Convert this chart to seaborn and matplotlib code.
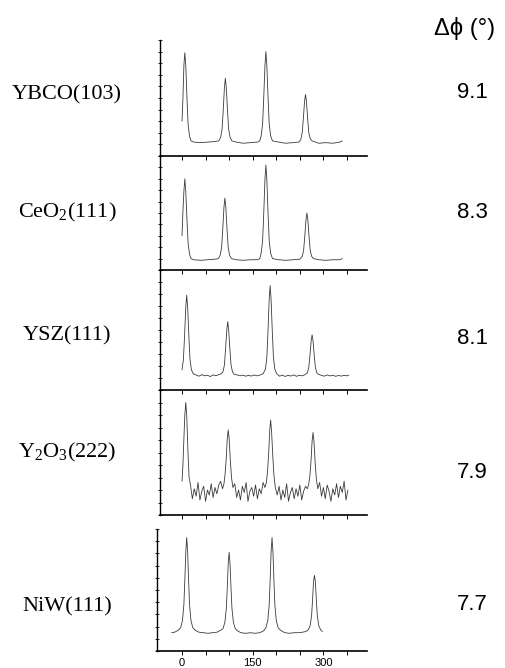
import matplotlib
matplotlib.use("Agg")
import matplotlib.pyplot as plt
import seaborn as sns
import pandas as pd
from matplotlib.ticker import FixedLocator, MultipleLocator, NullFormatter, FixedFormatter

# ---------------- data ----------------
SAMPLES = ["YBCO(103)", "CeO$_2$(111)", "YSZ(111)", "Y$_2$O$_3$(222)", "NiW(111)"]
DELTA_PHI = ["9.1", "8.3", "8.1", "7.9", "7.7"]
HEADER = "Δϕ (°)"
XTICKS_LABELLED = [0, 150, 300]
XTICK_LABELS = ["0", "150", "300"]
XTICKS_MINOR = [50, 100, 200, 250, 350]

PHI_YBCO = [0, 2, 4, 6, 8, 10.5, 13, 16, 19, 25, 40, 55, 70, 78, 82, 85, 87.5, 90, 92, 94,
            96.5, 99, 102, 106, 115, 130, 145, 160, 165, 168, 171, 173.5, 176, 178, 180,
            182.5, 185, 188, 192, 205, 220, 235, 248, 252, 255, 257.5, 260, 262, 264,
            266.5, 269, 272, 276, 290, 305, 320, 335, 340]
I_YBCO = [30, 50, 78, 89, 78, 50, 27, 17, 13, 12, 11.5, 12, 12.5, 13, 16, 23, 39.5, 59, 67, 59,
          39.5, 23, 16, 13, 12, 11, 11.5, 12, 13, 17.5, 27.6, 51, 78, 90, 78,
          51, 27.6, 17.5, 13, 12, 11, 11.5, 12, 14, 20, 32.5, 47, 53, 47,
          32.5, 20, 15, 13, 11, 11.5, 11, 12, 13]

PHI_CEO2 = [0, 2, 4, 6, 8, 10.5, 13, 16, 19, 25, 40, 55, 70, 77, 81, 84, 86.5, 89, 91, 93,
            95.5, 98, 101, 105, 115, 130, 145, 160, 165, 168, 171, 173.5, 176, 178, 180,
            182.5, 185, 188, 192, 205, 220, 235, 250, 255, 258, 260.5, 263, 265, 267,
            269.5, 272, 275, 279, 290, 305, 320, 335, 340]
I_CEO2 = [30, 52, 69, 80, 69, 44.5, 23, 14, 10, 9, 8.5, 9, 9.5, 10, 12.8, 19.8, 36, 55, 63, 55,
          36, 19.8, 12.8, 10, 9, 8.5, 9, 9, 10, 14.8, 25.6, 50.5, 79.5, 92, 79.5,
          50.5, 25.6, 14.8, 10, 9, 8.5, 9, 9.5, 11.9, 17.2, 29.5, 44, 50, 44,
          29.5, 17.2, 12, 10, 9, 8.5, 9, 9, 10]

PHI_YSZ = [0, 3, 5.5, 8, 10, 12, 14.5, 17, 20, 24,
           30, 36, 42, 48, 54, 60, 66, 72, 78, 83,
           87, 90, 92.5, 95, 97, 99, 101.5, 104, 107, 111,
           117, 123, 129, 135, 141, 147, 153, 159, 165, 172,
           177, 180, 182.5, 185, 187, 189, 191.5, 194, 197, 201,
           207, 213, 219, 225, 231, 237, 243, 249, 255, 261,
           266, 269, 271.5, 274, 276, 278, 280.5, 283, 286, 290,
           296, 302, 308, 314, 320, 326, 332, 338, 344, 350, 354]
I_YSZ = [16.7, 25.4, 45.5, 69, 79, 69, 45.5, 25.4, 16.7, 13.5,
         12.5, 11.5, 12.8, 11.8, 12.3, 11.2, 12.6, 11.9, 12.8, 13.5,
         15.2, 21, 34.5, 50, 57, 50, 34.5, 21, 15.2, 13,
         12.6, 11.8, 12.4, 11.5, 12.2, 11.6, 12.5, 11.8, 12.4, 13.5,
         17.3, 27, 49.5, 75.8, 87, 75.8, 49.5, 27, 17.3, 13.5,
         11.5, 12.4, 11.3, 12.2, 11.6, 12.6, 11.4, 12.3, 11.8, 12.8,
         14.4, 18.8, 29, 40.9, 46, 40.9, 29, 18.8, 14.4, 13,
         12.2, 11.5, 12.6, 11.7, 12.3, 11.4, 12.1, 11.6, 12.2, 11.8, 12.4]

PHI_Y2O3 = [0, 2, 4, 6, 8, 10, 12.5, 15,
            18, 22, 26, 30, 34, 38, 42, 46, 50, 54, 58, 62, 66, 70, 74, 78, 82,
            86, 89, 91.5, 94, 96, 98, 100, 102.5, 105, 108,
            112, 116, 120, 124, 128, 132, 136, 140, 144, 148, 152, 156, 160, 164, 168, 172,
            176, 179, 181.5, 184, 186, 188, 190, 192.5, 195, 198,
            202, 206, 210, 214, 218, 222, 226, 230, 234, 238, 242, 246, 250, 254, 258, 262,
            266, 269, 271.5, 274, 276, 278, 280, 282.5, 285, 288,
            292, 296, 300, 304, 308, 312, 316, 320, 324, 328, 332, 336, 340, 344, 348, 352]
I_Y2O3 = [27, 40, 61, 80, 90, 80, 52, 30,
          24, 13, 21, 15, 26, 12, 19, 23, 11, 20, 16, 25, 14, 22, 17, 24, 27,
          21, 25, 33, 46, 61, 68, 61, 44, 30, 22,
          25, 14, 20, 12, 23, 18, 26, 11, 19, 22, 15, 24, 13, 21, 17, 26,
          22, 26, 35, 50, 67, 76, 67, 48, 32, 22,
          16, 23, 12, 20, 14, 25, 11, 18, 22, 13, 21, 15, 24, 12, 19, 23,
          21, 25, 32, 45, 59, 66, 59, 42, 29, 21,
          26, 15, 22, 13, 24, 19, 11, 21, 16, 25, 14, 23, 18, 27, 12, 20]

PHI_NIW = [-22, -15, -8, -3, 1, 4, 6, 8, 10, 12, 14, 16, 19, 23, 28, 35,
           45, 55, 65, 75, 82,
           87, 91, 94, 96, 98, 100, 102, 104, 106, 109, 113, 118,
           125, 135, 145, 155, 165, 173,
           178, 182, 185, 187, 189, 191, 193, 195, 197, 200, 204, 209,
           218, 228, 238, 248, 257,
           263, 268, 272, 275, 277, 279, 281, 283, 285, 287, 290, 294, 298]
I_NIW = [15, 15.5, 17, 19, 25, 38, 58, 81, 93, 81, 58, 38, 25, 19, 17, 15.5,
         15, 14.5, 15, 15.5, 17,
         18.3, 23.6, 34.8, 51.3, 71, 81, 71, 51.3, 34.8, 23.6, 18.3, 16.5,
         15, 14.5, 15, 14.5, 15, 16.5,
         19, 25, 38, 58, 81, 93, 81, 58, 38, 25, 19, 17,
         15, 14.5, 15, 15, 15.5,
         16, 17.4, 21, 29.4, 42, 56.8, 62, 56.8, 42, 29.4, 21, 17.4, 16]

SERIES = [(PHI_YBCO, I_YBCO), (PHI_CEO2, I_CEO2), (PHI_YSZ, I_YSZ),
          (PHI_Y2O3, I_Y2O3), (PHI_NIW, I_NIW)]

# ---------------- style ----------------
sns.set_style("ticks")
plt.rcParams["font.family"] = ["Liberation Sans", "DejaVu Sans"]
plt.rcParams["mathtext.fontset"] = "custom"
plt.rcParams["mathtext.rm"] = "Liberation Serif"
plt.rcParams["mathtext.it"] = "Liberation Serif:italic"
plt.rcParams["text.color"] = "black"
plt.rcParams["xtick.color"] = "black"
plt.rcParams["ytick.color"] = "black"
plt.rcParams["axes.edgecolor"] = "black"

W, H = 506, 668
fig = plt.figure(figsize=(W / 100, H / 100), dpi=100)

# panel boxes in pixels: (left, top, right, bottom)
boxes = [(160, 40, 367, 156), (160, 156, 367, 270), (160, 270, 367, 390),
         (160, 390, 367, 515), (157, 529, 367, 651)]
label_y = [95, 212, 336, 452, 607]
value_y = [92, 213, 339, 472, 604]

def px_to_phi(px):
    return (px - 182) * 150 / 70.7

for i, ((l, t, r, b), (phi, inten)) in enumerate(zip(boxes, SERIES)):
    ax = fig.add_axes([l / W, 1 - b / H, (r - l) / W, (b - t) / H])
    df = pd.DataFrame({"phi": phi, "I": inten})
    sns.lineplot(data=df, x="phi", y="I", ax=ax, color="#3a3a3a", linewidth=0.6)
    ax.set_xlim(px_to_phi(l), px_to_phi(r))
    ax.set_ylim(0, 100)
    ax.set_xlabel("")
    ax.set_ylabel("")
    for s in ("top", "right"):
        ax.spines[s].set_visible(False)
    ax.spines["left"].set_linewidth(1.0)
    ax.spines["bottom"].set_linewidth(1.2)
    ax.yaxis.set_major_locator(MultipleLocator(10))
    ax.yaxis.set_major_formatter(NullFormatter())
    ax.tick_params(axis="y", direction="inout", length=3, width=0.6)
    ax.xaxis.set_major_locator(FixedLocator(XTICKS_LABELLED))
    ax.xaxis.set_minor_locator(FixedLocator(XTICKS_MINOR))
    ax.tick_params(axis="x", which="both", direction="out", length=3, width=0.7,
                   pad=2, labelsize=8)
    if i == len(boxes) - 1:
        ax.xaxis.set_major_formatter(FixedFormatter(XTICK_LABELS))
    else:
        ax.xaxis.set_major_formatter(NullFormatter())
    ax.patch.set_alpha(0)

    fig.text(67 / W, 1 - label_y[i] / H, SAMPLES[i], ha="center", va="center",
             fontsize=16, family="Liberation Serif")
    fig.text(457 / W, 1 - value_y[i] / H, DELTA_PHI[i], ha="left", va="center",
             fontsize=16)

fig.text(465 / W, 1 - 28 / H, HEADER, ha="center", va="center", fontsize=17,
         family=["Liberation Sans", "DejaVu Sans"])

fig.savefig("out.png", dpi=100)
